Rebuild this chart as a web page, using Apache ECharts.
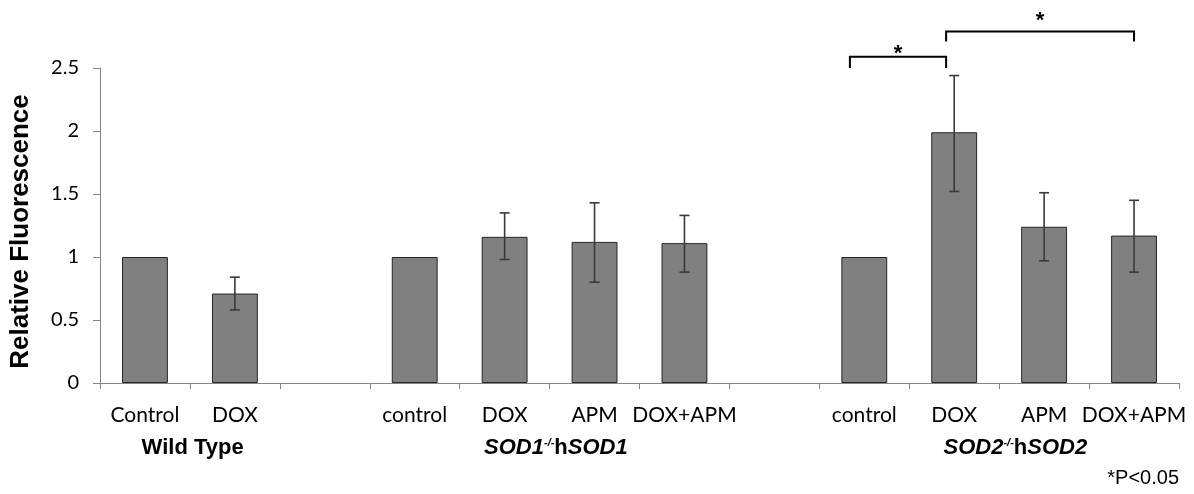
<!DOCTYPE html>
<html>
<head>
<meta charset="utf-8">
<script src="https://cdn.jsdelivr.net/npm/echarts@6/dist/echarts.min.js"></script>
<style>
  html, body { margin: 0; padding: 0; background: #fff; }
  #chart { width: 1194px; height: 494px; }
</style>
</head>
<body>
<div id="chart"></div>
<script>
// categories (empty ones are the gaps between groups)
var categories = ['Control', 'DOX', '', 'control', 'DOX', 'APM', 'DOX+APM', '', 'control', 'DOX', 'APM', 'DOX+APM'];
var means   = [1, 0.71, null, 1, 1.16, 1.12, 1.11, null, 1, 1.99, 1.24, 1.17];
var errLow  = [null, 0.58, null, null, 0.98, 0.80, 0.88, null, null, 1.52, 0.97, 0.88];
var errHigh = [null, 0.84, null, null, 1.35, 1.43, 1.33, null, null, 2.44, 1.51, 1.45];

// group labels under the axis, centre in category units
var groupCenter = [0.53, 4.57, 9.68];
var groupText = ['Wild Type', '{b|SOD1}{s|-/-}{r|h}{b|SOD1}', '{b|SOD2}{s|-/-}{r|h}{b|SOD2}'];

// significance brackets, in category units / y values
var bracketFrom = [7.84, 8.91];
var bracketTo = [8.91, 11.0];
var bracketTop = [2.59, 2.79];
var bracketLeg = [2.50, 2.71];
var starY = [2.643, 2.905];
var bracketMark = ['*', '*'];
var footnote = '*P<0.05';

var chart = echarts.init(document.getElementById('chart'));

var errData = [];
for (var i = 0; i < categories.length; i++) {
  if (errLow[i] != null) errData.push([i, errLow[i], errHigh[i]]);
}

chart.setOption({
  animation: false,
  grid: { left: 99, right: 15, top: 68, bottom: 111 },
  xAxis: {
    type: 'category',
    data: categories,
    axisLine: { lineStyle: { color: '#868686', width: 1 } },
    axisTick: { show: true, length: 6, lineStyle: { color: '#868686' } },
    axisLabel: { color: '#000', fontFamily: 'Lato', fontSize: 21, margin: 22, interval: 0 }
  },
  yAxis: {
    type: 'value',
    min: 0, max: 2.5, interval: 0.5,
    name: 'Relative Fluorescence',
    nameLocation: 'middle',
    nameGap: 66,
    nameTextStyle: { color: '#000', fontFamily: 'Liberation Sans', fontWeight: 'bold', fontSize: 26, padding: [0, 12, 0, 0] },
    axisLine: { show: true, lineStyle: { color: '#868686', width: 1 } },
    axisTick: { show: true, length: 7, lineStyle: { color: '#868686' } },
    splitLine: { show: false },
    axisLabel: { color: '#000', fontFamily: 'Lato', fontSize: 20, margin: 21 }
  },
  series: [
    {
      type: 'bar',
      data: means,
      barWidth: '51%',
      itemStyle: { color: '#808080', borderColor: '#262626', borderWidth: 1 }
    },
    {
      type: 'custom',
      data: errData,
      z: 5,
      renderItem: function (params, api) {
        var lo = api.coord([api.value(0), api.value(1)]);
        var hi = api.coord([api.value(0), api.value(2)]);
        var w = 5;
        var st = { stroke: '#3a3a3a', lineWidth: 1.6 };
        return {
          type: 'group',
          children: [
            { type: 'line', shape: { x1: lo[0], y1: lo[1], x2: hi[0], y2: hi[1] }, style: st },
            { type: 'line', shape: { x1: lo[0] - w, y1: lo[1], x2: lo[0] + w, y2: lo[1] }, style: st },
            { type: 'line', shape: { x1: hi[0] - w, y1: hi[1], x2: hi[0] + w, y2: hi[1] }, style: st }
          ]
        };
      }
    }
  ]
});

// annotations placed from the axes
function xAt(p) {
  var c0 = chart.convertToPixel({ xAxisIndex: 0 }, 0);
  var c1 = chart.convertToPixel({ xAxisIndex: 0 }, 1);
  return c0 + p * (c1 - c0);
}
function yAt(v) { return chart.convertToPixel({ yAxisIndex: 0 }, v); }

var els = [];
var base = yAt(0);
for (var g = 0; g < groupText.length; g++) {
  els.push({
    type: 'text',
    x: xAt(groupCenter[g]),
    y: base + 65,
    style: {
      text: groupText[g],
      align: 'center', verticalAlign: 'middle',
      fill: '#000',
      font: 'bold 22px "Liberation Sans"',
      rich: {
        b: { fontFamily: 'Liberation Sans', fontWeight: 'bold', fontStyle: 'italic', fontSize: 22, fill: '#000' },
        r: { fontFamily: 'Liberation Sans', fontWeight: 'bold', fontSize: 22, fill: '#000' },
        s: { fontFamily: 'Liberation Sans', fontWeight: 'bold', fontStyle: 'italic', fontSize: 11, fill: '#000', verticalAlign: 'top', padding: [0, 0, 10, 0] }
      }
    }
  });
}
for (var b = 0; b < bracketFrom.length; b++) {
  var x1 = xAt(bracketFrom[b]), x2 = xAt(bracketTo[b]);
  var yt = yAt(bracketTop[b]), yl = yAt(bracketLeg[b]);
  els.push({
    type: 'polyline',
    shape: { points: [[x1, yl], [x1, yt], [x2, yt], [x2, yl]] },
    style: { stroke: '#000', lineWidth: 2, fill: null }
  });
  els.push({
    type: 'text',
    x: (x1 + x2) / 2, y: yAt(starY[b]) + 4,
    style: { text: bracketMark[b], align: 'center', verticalAlign: 'middle', fill: '#000', font: 'bold 22px "Liberation Sans"' }
  });
}
els.push({
  type: 'text',
  right: 15, top: 468,
  style: { text: footnote, fill: '#000', font: '20px "Liberation Sans"' }
});
chart.setOption({ graphic: els });
</script>
</body>
</html>
